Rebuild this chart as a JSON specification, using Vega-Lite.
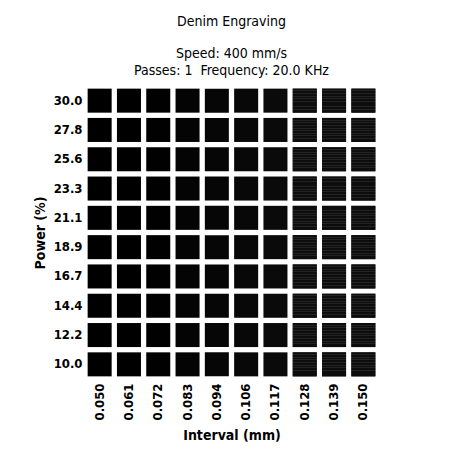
{
  "$schema": "https://vega.github.io/schema/vega-lite/v6.json",
  "autosize": "none",
  "width": 293,
  "height": 293,
  "padding": {"left": 85, "top": 86, "right": 81, "bottom": 80},
  "background": "white",
  "config": {
    "font": "'Liberation Sans Narrow', 'DejaVu Sans Condensed', 'Liberation Sans', sans-serif",
    "view": {"stroke": null}
  },
  "title": {
    "text": "Denim Engraving",
    "subtitle": ["Speed: 400 mm/s", "Passes: 1\u00a0 Frequency: 20.0 KHz"],
    "anchor": "middle",
    "font": "'Liberation Sans Narrow', 'DejaVu Sans Condensed', 'Liberation Sans', sans-serif",
    "fontSize": 14,
    "fontWeight": "normal",
    "color": "black",
    "subtitleFont": "'Liberation Sans Narrow', 'DejaVu Sans Condensed', 'Liberation Sans', sans-serif",
    "subtitleFontSize": 14,
    "subtitleColor": "black",
    "subtitlePadding": 18,
    "subtitleLineHeight": 17,
    "offset": 8
  },
  "data": {
    "values": [
      {"interval": "0.050", "power": "10.0"}, {"interval": "0.061", "power": "10.0"}, {"interval": "0.072", "power": "10.0"}, {"interval": "0.083", "power": "10.0"}, {"interval": "0.094", "power": "10.0"}, {"interval": "0.106", "power": "10.0"}, {"interval": "0.117", "power": "10.0"}, {"interval": "0.128", "power": "10.0"}, {"interval": "0.139", "power": "10.0"}, {"interval": "0.150", "power": "10.0"},
      {"interval": "0.050", "power": "12.2"}, {"interval": "0.061", "power": "12.2"}, {"interval": "0.072", "power": "12.2"}, {"interval": "0.083", "power": "12.2"}, {"interval": "0.094", "power": "12.2"}, {"interval": "0.106", "power": "12.2"}, {"interval": "0.117", "power": "12.2"}, {"interval": "0.128", "power": "12.2"}, {"interval": "0.139", "power": "12.2"}, {"interval": "0.150", "power": "12.2"},
      {"interval": "0.050", "power": "14.4"}, {"interval": "0.061", "power": "14.4"}, {"interval": "0.072", "power": "14.4"}, {"interval": "0.083", "power": "14.4"}, {"interval": "0.094", "power": "14.4"}, {"interval": "0.106", "power": "14.4"}, {"interval": "0.117", "power": "14.4"}, {"interval": "0.128", "power": "14.4"}, {"interval": "0.139", "power": "14.4"}, {"interval": "0.150", "power": "14.4"},
      {"interval": "0.050", "power": "16.7"}, {"interval": "0.061", "power": "16.7"}, {"interval": "0.072", "power": "16.7"}, {"interval": "0.083", "power": "16.7"}, {"interval": "0.094", "power": "16.7"}, {"interval": "0.106", "power": "16.7"}, {"interval": "0.117", "power": "16.7"}, {"interval": "0.128", "power": "16.7"}, {"interval": "0.139", "power": "16.7"}, {"interval": "0.150", "power": "16.7"},
      {"interval": "0.050", "power": "18.9"}, {"interval": "0.061", "power": "18.9"}, {"interval": "0.072", "power": "18.9"}, {"interval": "0.083", "power": "18.9"}, {"interval": "0.094", "power": "18.9"}, {"interval": "0.106", "power": "18.9"}, {"interval": "0.117", "power": "18.9"}, {"interval": "0.128", "power": "18.9"}, {"interval": "0.139", "power": "18.9"}, {"interval": "0.150", "power": "18.9"},
      {"interval": "0.050", "power": "21.1"}, {"interval": "0.061", "power": "21.1"}, {"interval": "0.072", "power": "21.1"}, {"interval": "0.083", "power": "21.1"}, {"interval": "0.094", "power": "21.1"}, {"interval": "0.106", "power": "21.1"}, {"interval": "0.117", "power": "21.1"}, {"interval": "0.128", "power": "21.1"}, {"interval": "0.139", "power": "21.1"}, {"interval": "0.150", "power": "21.1"},
      {"interval": "0.050", "power": "23.3"}, {"interval": "0.061", "power": "23.3"}, {"interval": "0.072", "power": "23.3"}, {"interval": "0.083", "power": "23.3"}, {"interval": "0.094", "power": "23.3"}, {"interval": "0.106", "power": "23.3"}, {"interval": "0.117", "power": "23.3"}, {"interval": "0.128", "power": "23.3"}, {"interval": "0.139", "power": "23.3"}, {"interval": "0.150", "power": "23.3"},
      {"interval": "0.050", "power": "25.6"}, {"interval": "0.061", "power": "25.6"}, {"interval": "0.072", "power": "25.6"}, {"interval": "0.083", "power": "25.6"}, {"interval": "0.094", "power": "25.6"}, {"interval": "0.106", "power": "25.6"}, {"interval": "0.117", "power": "25.6"}, {"interval": "0.128", "power": "25.6"}, {"interval": "0.139", "power": "25.6"}, {"interval": "0.150", "power": "25.6"},
      {"interval": "0.050", "power": "27.8"}, {"interval": "0.061", "power": "27.8"}, {"interval": "0.072", "power": "27.8"}, {"interval": "0.083", "power": "27.8"}, {"interval": "0.094", "power": "27.8"}, {"interval": "0.106", "power": "27.8"}, {"interval": "0.117", "power": "27.8"}, {"interval": "0.128", "power": "27.8"}, {"interval": "0.139", "power": "27.8"}, {"interval": "0.150", "power": "27.8"},
      {"interval": "0.050", "power": "30.0"}, {"interval": "0.061", "power": "30.0"}, {"interval": "0.072", "power": "30.0"}, {"interval": "0.083", "power": "30.0"}, {"interval": "0.094", "power": "30.0"}, {"interval": "0.106", "power": "30.0"}, {"interval": "0.117", "power": "30.0"}, {"interval": "0.128", "power": "30.0"}, {"interval": "0.139", "power": "30.0"}, {"interval": "0.150", "power": "30.0"}
    ]
  },
  "encoding": {
    "x": {
      "field": "interval", "type": "ordinal", "sort": "ascending",
      "scale": {"paddingInner": 0.18, "paddingOuter": 0.09},
      "axis": {
        "title": "Interval (mm)", "titleFontSize": 14, "titleFontWeight": "bold", "titleColor": "black",
        "titlePadding": 9,
        "labelAngle": -90, "labelAlign": "right", "labelBaseline": "middle",
        "labelFontSize": 13, "labelFontWeight": "bold", "labelColor": "black", "labelPadding": 4,
        "ticks": false, "domain": false, "grid": false
      }
    },
    "y": {
      "field": "power", "type": "ordinal", "sort": "descending",
      "scale": {"paddingInner": 0.18, "paddingOuter": 0.09},
      "axis": {
        "title": "Power (%)", "titleFontSize": 14, "titleFontWeight": "bold", "titleColor": "black",
        "titlePadding": 6,
        "labelFontSize": 13, "labelFontWeight": "bold", "labelColor": "black", "labelPadding": 3,
        "ticks": false, "domain": false, "grid": false
      }
    }
  },
  "layer": [
    {
      "mark": {"type": "rect", "stroke": null},
      "encoding": {
        "color": {
          "field": "interval", "type": "ordinal", "legend": null,
          "scale": {"range": ["#000000", "#000000", "#010101", "#040404", "#060606", "#080808", "#0a0a0a", "#131313", "#151515", "#181818"]}
        }
      }
    },
    {
      "transform": [{"filter": "datum.interval >= '0.128'"}],
      "mark": {
        "type": "rect", "stroke": null,
        "fill": {
          "gradient": "linear", "x1": 0, "y1": 0, "x2": 0, "y2": 1,
          "stops": [
            {"offset": 0.0, "color": "#0d0d0d"}, {"offset": 0.07, "color": "#0d0d0d"}, {"offset": 0.07, "color": "#242424"}, {"offset": 0.11, "color": "#242424"},
            {"offset": 0.11, "color": "#0d0d0d"}, {"offset": 0.18, "color": "#0d0d0d"}, {"offset": 0.18, "color": "#242424"}, {"offset": 0.22, "color": "#242424"},
            {"offset": 0.22, "color": "#0d0d0d"}, {"offset": 0.29, "color": "#0d0d0d"}, {"offset": 0.29, "color": "#242424"}, {"offset": 0.33, "color": "#242424"},
            {"offset": 0.33, "color": "#0d0d0d"}, {"offset": 0.40, "color": "#0d0d0d"}, {"offset": 0.40, "color": "#242424"}, {"offset": 0.44, "color": "#242424"},
            {"offset": 0.44, "color": "#0d0d0d"}, {"offset": 0.51, "color": "#0d0d0d"}, {"offset": 0.51, "color": "#242424"}, {"offset": 0.55, "color": "#242424"},
            {"offset": 0.55, "color": "#0d0d0d"}, {"offset": 0.62, "color": "#0d0d0d"}, {"offset": 0.62, "color": "#242424"}, {"offset": 0.66, "color": "#242424"},
            {"offset": 0.66, "color": "#0d0d0d"}, {"offset": 0.73, "color": "#0d0d0d"}, {"offset": 0.73, "color": "#242424"}, {"offset": 0.77, "color": "#242424"},
            {"offset": 0.77, "color": "#0d0d0d"}, {"offset": 0.84, "color": "#0d0d0d"}, {"offset": 0.84, "color": "#242424"}, {"offset": 0.88, "color": "#242424"},
            {"offset": 0.88, "color": "#0d0d0d"}, {"offset": 1.0, "color": "#0d0d0d"}
          ]
        },
        "opacity": 1
      }
    }
  ]
}
